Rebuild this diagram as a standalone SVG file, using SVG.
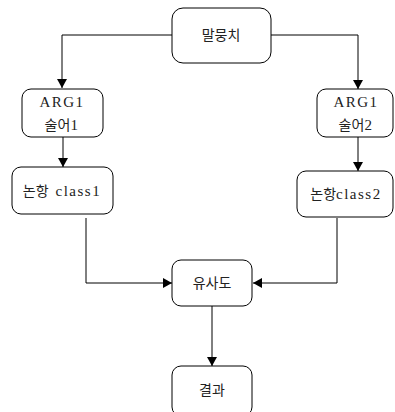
<svg xmlns="http://www.w3.org/2000/svg" width="395" height="412" viewBox="0 0 395 412">
<style>
.n{fill:#fff;stroke:#000;stroke-width:1}
.t{font-family:"Liberation Serif","Noto Sans CJK KR",serif;font-size:14px;fill:#222;text-anchor:middle;dominant-baseline:central;white-space:pre}
.l{font-size:15px;letter-spacing:1.5px}
.c{fill:none;stroke:#000;stroke-width:1}
</style>
<defs>
<marker id="a" markerWidth="10" markerHeight="10" refX="9" refY="5" orient="auto" markerUnits="userSpaceOnUse">
<path d="M0,0 L9,5 L0,10 Z" fill="#000"/>
</marker>
</defs>
<rect width="395" height="412" fill="#fff"/>
<g id="connectors">
<path class="c" d="M172,35 H62 V88" marker-end="url(#a)"/>
<path class="c" d="M271,35 H358 V89" marker-end="url(#a)"/>
<path class="c" d="M63,137 V167" marker-end="url(#a)"/>
<path class="c" d="M358,137 V171" marker-end="url(#a)"/>
<path class="c" d="M86,218 V283 H172" marker-end="url(#a)"/>
<path class="c" d="M337,218 V283 H253" marker-end="url(#a)"/>
<path class="c" d="M212,306 V366" marker-end="url(#a)"/>
</g>
<g id="n1"><rect class="n" x="172" y="8" width="99" height="55" rx="11"/><text class="t" x="221" y="35">말뭉치</text></g>
<g id="n2"><rect class="n" x="22" y="89" width="81" height="48" rx="9"/><text class="t" x="62" y="102"><tspan class="l">ARG1</tspan></text><text class="t" x="62" y="125">술어<tspan class="l">1</tspan></text></g>
<g id="n3"><rect class="n" x="317" y="89" width="76" height="48" rx="9"/><text class="t" x="356" y="102"><tspan class="l">ARG1</tspan></text><text class="t" x="356" y="125">술어<tspan class="l">2</tspan></text></g>
<g id="n4"><rect class="n" x="12" y="167" width="101" height="47" rx="9"/><text class="t" x="62" y="191" xml:space="preserve">논항  <tspan class="l">class1</tspan></text></g>
<g id="n5"><rect class="n" x="297" y="171" width="96" height="46" rx="9"/><text class="t" x="346" y="194">논항<tspan class="l">class2</tspan></text></g>
<g id="n6"><rect class="n" x="172" y="260" width="80" height="46" rx="9"/><text class="t" x="212" y="283">유사도</text></g>
<g id="n7"><rect class="n" x="172" y="366" width="80" height="50" rx="9"/><text class="t" x="212" y="390">결과</text></g>
</svg>
